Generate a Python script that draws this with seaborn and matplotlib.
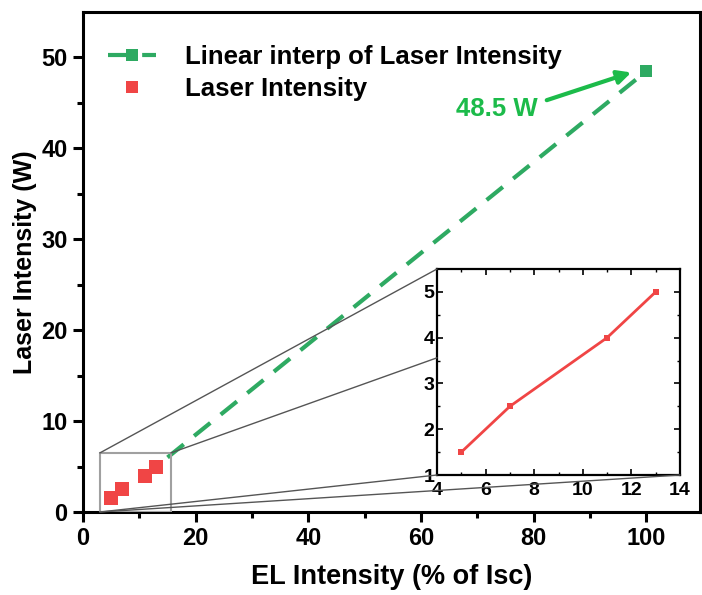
import numpy as np
import pandas as pd
import matplotlib
matplotlib.use("Agg")
import matplotlib.pyplot as plt
import seaborn as sns
from matplotlib.lines import Line2D
from matplotlib.patches import Rectangle, ConnectionPatch

sns.set_style("ticks")
plt.rcParams['font.family'] = ['Liberation Sans', 'DejaVu Sans']
plt.rcParams['font.weight'] = 'bold'
plt.rcParams['axes.labelweight'] = 'bold'
plt.rcParams['text.color'] = 'black'
plt.rcParams['axes.labelcolor'] = 'black'
plt.rcParams['xtick.color'] = 'black'
plt.rcParams['ytick.color'] = 'black'
plt.rcParams['xtick.labelcolor'] = 'black'
plt.rcParams['ytick.labelcolor'] = 'black'

# Data
el_intensity = [5, 7, 11, 13]
laser_intensity = [1.5, 2.5, 4.0, 5.0]
interp_x = [15, 100]
interp_y = [6.0, 48.5]
annot_text = "48.5 W"
xlabel = "EL Intensity (% of Isc)"
ylabel = "Laser Intensity (W)"
legend_labels = ["Linear interp of Laser Intensity", "Laser Intensity"]

red = "#f04545"
green = "#2eaa62"
bright_green = "#1cbb4a"

fig = plt.figure(figsize=(7.02, 5.95), dpi=100)
ax = fig.add_axes([83/702, 1 - 512/595, (700 - 83)/702, (512 - 12)/595])

df_red = pd.DataFrame({"x": el_intensity, "y": laser_intensity})
df_int = pd.DataFrame({"x": interp_x, "y": interp_y})

sns.lineplot(data=df_int, x="x", y="y", ax=ax, color=green, linewidth=3,
             linestyle=(0, (5, 3.2)), marker="s", markersize=9, markevery=[1],
             markeredgewidth=0, legend=False)
sns.scatterplot(data=df_red, x="x", y="y", ax=ax, color=red, marker="s", s=95,
                linewidth=0, legend=False, zorder=5)

ax.set_xlim(0, 109.5)
ax.set_ylim(0, 55)
ax.set_xticks([0, 20, 40, 60, 80, 100])
ax.set_xticks(np.arange(10, 110, 20), minor=True)
ax.set_yticks([0, 10, 20, 30, 40, 50])
ax.set_yticks(np.arange(5, 55, 10), minor=True)
for s in ax.spines.values():
    s.set_linewidth(2.2)
    s.set_color("black")
ax.tick_params(which="major", direction="out", length=7, width=2.2, labelsize=17, pad=4,
               colors="black")
ax.tick_params(which="minor", direction="out", length=4, width=2.2, colors="black")
ax.tick_params(axis="y", which="both", right=True, labelright=False)
for lab in ax.get_xticklabels() + ax.get_yticklabels():
    lab.set_fontweight("bold")
ax.set_xlabel(xlabel, fontsize=19.5, fontweight="bold", labelpad=10, color="black")
ax.set_ylabel(ylabel, fontsize=18, fontweight="bold", labelpad=3, color="black")

# zoom rectangle
rect = Rectangle((3, 0), 12.6, 6.5, fill=False, edgecolor="#a0a0a0", linewidth=1.5, zorder=4)
ax.add_patch(rect)

# annotation
ax.text(73.5, 44.3, annot_text, color=bright_green, fontsize=18.5, fontweight="bold",
        ha="center", va="center")
ax.annotate("", xy=(97.3, 48.35), xytext=(82.3, 45.3),
            arrowprops=dict(arrowstyle="-|>,head_length=0.8,head_width=0.4",
                            color=bright_green, lw=3, shrinkA=0, shrinkB=0))

# legend
handles = [Line2D([], [], color=green, linewidth=3, linestyle=(0, (5, 3.2)), marker="s",
                  markersize=9, markeredgewidth=0),
           Line2D([], [], color=red, linestyle="none", marker="s", markersize=9,
                  markeredgewidth=0)]
leg = ax.legend(handles, legend_labels, loc="upper left", bbox_to_anchor=(0.04, 0.934),
                frameon=False, handlelength=1.9, handletextpad=1.1, borderpad=0,
                borderaxespad=0, labelspacing=0.33, prop={"weight": "bold", "size": 18.5})
for t in leg.get_texts():
    t.set_color("black")

# inset
axin = fig.add_axes([437/702, 1 - 475/595, (680 - 437)/702, (475 - 269)/595])
sns.lineplot(data=df_red, x="x", y="y", ax=axin, color=red, linewidth=2, marker="s",
             markersize=5, markeredgewidth=0, legend=False)
axin.set_xlim(4, 14)
axin.set_ylim(1, 5.5)
axin.set_xticks([4, 6, 8, 10, 12, 14])
axin.set_xticks(np.arange(5, 14, 2), minor=True)
axin.set_yticks([1, 2, 3, 4, 5])
axin.set_yticks(np.arange(1.5, 5.5, 1), minor=True)
for s in axin.spines.values():
    s.set_linewidth(1.6)
    s.set_color("black")
axin.tick_params(which="major", direction="in", length=4, width=1.2, labelsize=14,
                 top=True, right=True, pad=2, colors="black")
axin.tick_params(axis="x", which="major", pad=5)
axin.tick_params(which="minor", direction="in", length=2.5, width=1.0, top=True, right=True,
                 colors="black")
for lab in axin.get_xticklabels() + axin.get_yticklabels():
    lab.set_fontweight("bold")
axin.set_xlabel("")
axin.set_ylabel("")

# connector lines
for (xa, ya, xb, yb) in [(3, 6.5, 4, 5.5), (15.6, 6.5, 4, 3.56), (3, 0, 4, 1), (3, 0, 14, 1)]:
    con = ConnectionPatch(xyA=(xa, ya), coordsA=ax.transData, xyB=(xb, yb),
                          coordsB=axin.transData, color="#555555", linewidth=1.0, zorder=3)
    fig.add_artist(con)

fig.savefig("out.png", dpi=100)
